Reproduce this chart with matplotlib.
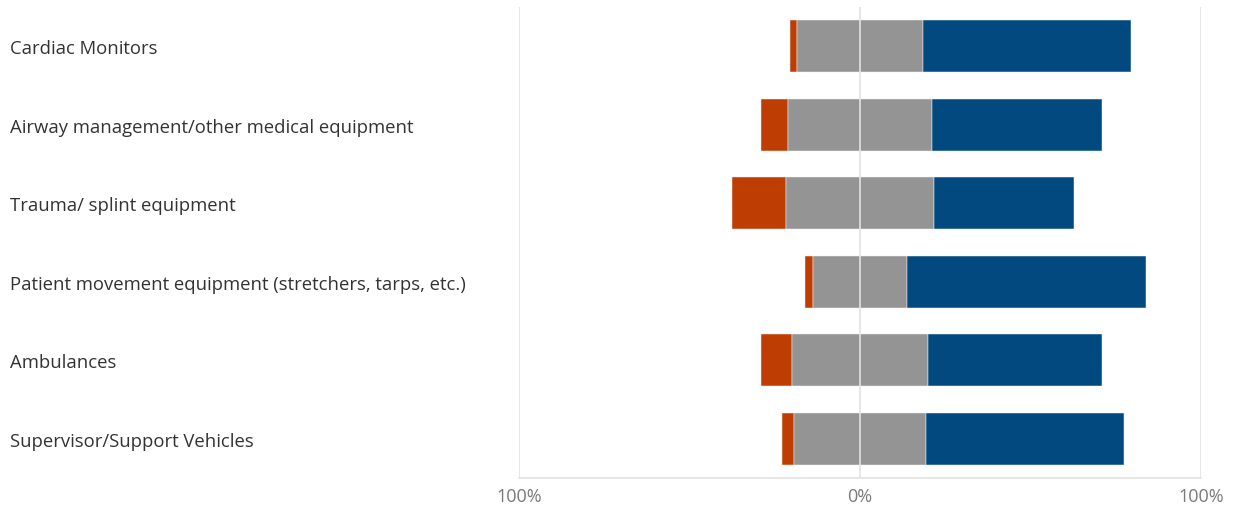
import matplotlib
matplotlib.use("Agg")
import matplotlib.pyplot as plt
import numpy as np

categories = [
    "Cardiac Monitors",
    "Airway management/other medical equipment",
    "Trauma/ splint equipment",
    "Patient movement equipment (stretchers, tarps, etc.)",
    "Ambulances",
    "Supervisor/Support Vehicles",
]
disagree = [2.1, 7.8, 15.8, 2.3, 8.9, 3.3]
neutral = [36.8, 42.2, 43.3, 27.8, 40.1, 39.0]
agree = [61.1, 50.0, 41.1, 70.1, 50.9, 57.8]
tick_values = [-100, 0, 100]
tick_labels = ["100%", "0%", "100%"]

c_disagree = "#BD3D02"
c_neutral = "#949494"
c_agree = "#01497F"

plt.rcParams["font.family"] = ["Open Sans", "DejaVu Sans"]

fig = plt.figure(figsize=(12.36, 5.10), dpi=100)
ax = fig.add_axes([519 / 1236, 1 - 479 / 510, (1201 - 519) / 1236, (479 - 8) / 510])

y = np.arange(len(categories))
dis = np.array(disagree)
neu = np.array(neutral)
agr = np.array(agree)

neu_left = -neu / 2
dis_left = neu_left - dis
agr_left = neu / 2

h = 0.66
kw = dict(height=h, edgecolor="#F2F2F2", linewidth=0.35, zorder=2)
ax.barh(y, dis, left=dis_left, color=c_disagree, **kw)
ax.barh(y, neu, left=neu_left, color=c_neutral, **kw)
ax.barh(y, agr, left=agr_left, color=c_agree, **kw)

ax.set_xlim(-100, 100)
ax.set_ylim(len(categories) - 0.5, -0.5)

# gridlines; the centre line sits above the bars
for v in tick_values:
    ax.axvline(v, color="#E3E3E3", linewidth=1.2, zorder=3 if v == 0 else 1)

for s in ["top", "left", "right"]:
    ax.spines[s].set_visible(False)
ax.spines["bottom"].set_color("#E3E3E3")
ax.spines["bottom"].set_linewidth(1.2)

ax.set_xticks(tick_values)
ax.set_xticklabels(tick_labels, fontsize=13, color="#7A7A7A")
ax.tick_params(axis="x", length=0, pad=6.5)

ax.set_yticks(y)
ax.set_yticklabels(categories, fontsize=13.3, color="#333333")
ax.tick_params(axis="y", length=0, pad=509 * 0.72)
for lbl in ax.get_yticklabels():
    lbl.set_horizontalalignment("left")

fig.savefig("out.png", dpi=100, facecolor="white")
